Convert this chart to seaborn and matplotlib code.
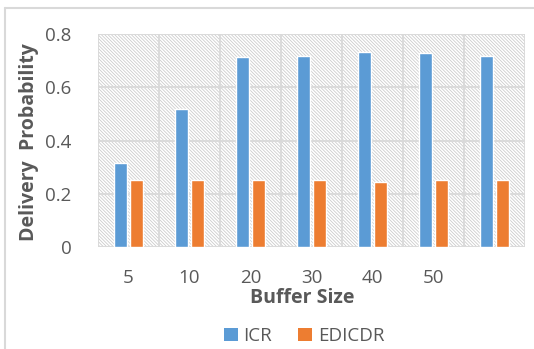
import matplotlib
matplotlib.use("Agg")
import matplotlib.pyplot as plt
from matplotlib.patches import Rectangle, Patch
from matplotlib.lines import Line2D
import pandas as pd
import seaborn as sns

# Delivery probability for each buffer size
buffer_sizes = ["5", "10", "20", "30", "40", "50", ""]
icr = [0.316, 0.52, 0.714, 0.718, 0.732, 0.728, 0.718]
edicdr = [0.25, 0.25, 0.25, 0.25, 0.245, 0.25, 0.25]
series_names = ["ICR", "EDICDR"]
y_ticks = [0, 0.2, 0.4, 0.6, 0.8]
y_tick_labels = ["0", "0.2", "0.4", "0.6", "0.8"]

df = pd.DataFrame({
    "Buffer Size": buffer_sizes * 2,
    "Protocol": [series_names[0]] * len(icr) + [series_names[1]] * len(edicdr),
    "Delivery Probability": icr + edicdr,
})

sns.set_theme(style="white")
plt.rcParams["font.family"] = ["Open Sans", "DejaVu Sans"]
plt.rcParams["hatch.linewidth"] = 0.6

TEXT = "#595959"
GRID = "#d9d9d9"
colors = {"ICR": "#5b9bd5", "EDICDR": "#ed7d31"}

fig = plt.figure(figsize=(5.34, 3.49), dpi=100)
ax = fig.add_axes([98 / 534, 1 - 247 / 349, 427 / 534, 213 / 349])

# hatched plot area
ax.add_patch(Rectangle((0, 0), 1, 1, transform=ax.transAxes, facecolor="white",
                       edgecolor="#cccccc", hatch="\\" * 10, linewidth=0, zorder=0))

sns.barplot(data=df, x="Buffer Size", y="Delivery Probability", hue="Protocol",
            order=buffer_sizes, hue_order=series_names, palette=colors,
            width=0.54, gap=0.24, saturation=1, legend=False, ax=ax, zorder=3)

ax.set_xlim(-0.5, len(buffer_sizes) - 0.5)
ax.set_ylim(0, 0.8)
ax.set_yticks(y_ticks)
ax.set_yticklabels(y_tick_labels)
ax.set_xticks(range(len(buffer_sizes)))
ax.set_xticklabels(buffer_sizes)

# grid: horizontal at ticks, vertical at category boundaries
for y in y_ticks:
    ax.axhline(y, color=GRID, lw=1.3, zorder=1)
for i in range(len(buffer_sizes) + 1):
    ax.axvline(i - 0.5, color=GRID, lw=1.3, zorder=1)

for s in ax.spines.values():
    s.set_visible(False)
ax.tick_params(axis="both", length=0, labelsize=13.5, labelcolor=TEXT)
ax.tick_params(axis="y", pad=19)
ax.tick_params(axis="x", pad=16)
ax.set_xlabel("")
ax.set_ylabel("")

fig.text(29 / 534, 1 - 142 / 349, "Delivery  Probability", rotation=90,
         ha="center", va="center", fontsize=14, fontweight="bold", color=TEXT)
fig.text(302 / 534, 1 - 298 / 349, "Buffer Size", ha="center", va="center",
         fontsize=14, fontweight="bold", color=TEXT)

handles = [Patch(facecolor=colors[n], edgecolor="none") for n in series_names]
fig.legend(handles, series_names, loc="center", bbox_to_anchor=(304 / 534, 1 - 336 / 349),
           ncol=2, frameon=False, fontsize=13.5, labelcolor=TEXT,
           handlelength=0.75, handleheight=0.75, handletextpad=0.3, columnspacing=1.4)

# outer chart frame (top and left edges)
fig.add_artist(Line2D([5 / 534, 5 / 534], [0, 1 - 8 / 349], transform=fig.transFigure,
                      color=GRID, lw=1.5))
fig.add_artist(Line2D([5 / 534, 1], [1 - 8 / 349, 1 - 8 / 349], transform=fig.transFigure,
                      color=GRID, lw=1.5))

fig.savefig("out.png", dpi=100)
